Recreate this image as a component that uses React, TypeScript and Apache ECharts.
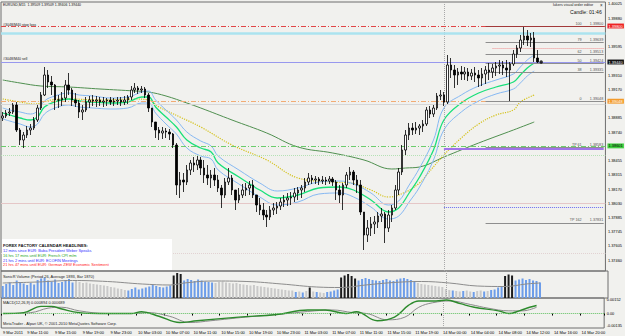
import React, { useEffect, useRef } from "react";
import * as echarts from "echarts";

// ---- time axis (30-minute bars) ----
const sessions = [
  { day: "9 Mar", from: 15, to: 47 },
  { day: "10 Mar", from: 0, to: 47 },
  { day: "11 Mar", from: 0, to: 45 },
  { day: "14 Mar", from: 0, to: 46 },
];
const categories: string[] = [];
sessions.forEach((s) => {
  for (let k = s.from; k <= s.to; k++) {
    const hh = String(Math.floor(k / 2)).padStart(2, "0");
    const mm = k % 2 === 0 ? "00" : "30";
    categories.push(`${s.day} ${hh}:${mm}`);
  }
});
const firstLabel = "9 Mar 2011";

// ---- price (EURUSD) ----
const firstOpen = 1.3888;
const closes = [
  1.3890, 1.3893, 1.3894, 1.3901, 1.3876, 1.3866, 1.3871, 1.3876, 1.3878, 1.3886,
  1.3898, 1.3911, 1.3931, 1.3924, 1.3921, 1.3906, 1.3906, 1.3908, 1.3921, 1.3916,
  1.3906, 1.3903, 1.3894, 1.3896, 1.3904, 1.3906, 1.3905, 1.3906, 1.3904, 1.3905,
  1.3906, 1.3904, 1.3905, 1.3906, 1.3904, 1.3906, 1.3909, 1.3916, 1.3918, 1.3916,
  1.3917, 1.3911, 1.3898, 1.3884, 1.3876, 1.3873, 1.3875, 1.3874, 1.3872, 1.3861,
  1.3821, 1.3826, 1.3824, 1.3836, 1.3843, 1.3841, 1.3846, 1.3838, 1.3831, 1.3828,
  1.3831, 1.3826, 1.3818, 1.3811, 1.3824, 1.3828, 1.3816, 1.3806, 1.3811, 1.3816,
  1.3818, 1.3821, 1.3811, 1.3801, 1.3796, 1.3791, 1.3789, 1.3796, 1.3798, 1.3800,
  1.3804, 1.3806, 1.3808, 1.3809, 1.3813, 1.3816, 1.3818, 1.3824, 1.3828, 1.3826,
  1.3827, 1.3825, 1.3826, 1.3825, 1.3827, 1.3824, 1.3816, 1.3811, 1.3821, 1.3831,
  1.3834, 1.3826, 1.3821, 1.3794, 1.3771, 1.3778, 1.3782, 1.3784, 1.3790, 1.3792,
  1.3778, 1.3791, 1.3798, 1.3816, 1.3834, 1.3856, 1.3871, 1.3878, 1.3876, 1.3878,
  1.3880, 1.3882, 1.3896, 1.3892, 1.3898, 1.3910, 1.3911, 1.3904, 1.3941, 1.3936,
  1.3931, 1.3934, 1.3932, 1.3934, 1.3930, 1.3933, 1.3931, 1.3928, 1.3932, 1.3936,
  1.3934, 1.3938, 1.3940, 1.3941, 1.3938, 1.3936, 1.3942, 1.3952, 1.3958, 1.3966,
  1.3970, 1.3966, 1.3968, 1.3948, 1.3944,
];
const highs = [
  1.3894, 1.3896, 1.3898, 1.3903, 1.3904, 1.3878, 1.3874, 1.3880, 1.3882, 1.3889,
  1.3901, 1.3914, 1.3939, 1.3936, 1.3930, 1.3922, 1.3911, 1.3914, 1.3926, 1.3933,
  1.3918, 1.3913, 1.3906, 1.3901, 1.3909, 1.3910, 1.3911, 1.3910, 1.3909, 1.3909,
  1.3908, 1.3909, 1.3908, 1.3909, 1.3909, 1.3910, 1.3911, 1.3920, 1.3923, 1.3920,
  1.3920, 1.3919, 1.3913, 1.3898, 1.3884, 1.3879, 1.3879, 1.3878, 1.3877, 1.3873,
  1.3863, 1.3834, 1.3833, 1.3841, 1.3846, 1.3849, 1.3850, 1.3849, 1.3846, 1.3841,
  1.3836, 1.3838, 1.3831, 1.3821, 1.3828, 1.3838, 1.3831, 1.3816, 1.3818, 1.3822,
  1.3823, 1.3825, 1.3826, 1.3811, 1.3808, 1.3803, 1.3796, 1.3800, 1.3803, 1.3804,
  1.3808, 1.3811, 1.3813, 1.3814, 1.3818, 1.3819, 1.3821, 1.3828, 1.3833, 1.3831,
  1.3830, 1.3829, 1.3830, 1.3829, 1.3830, 1.3829, 1.3826, 1.3821, 1.3823, 1.3834,
  1.3839, 1.3836, 1.3831, 1.3826, 1.3794, 1.3786, 1.3789, 1.3790, 1.3794, 1.3798,
  1.3794, 1.3796, 1.3801, 1.3821, 1.3838, 1.3861, 1.3876, 1.3883, 1.3883, 1.3884,
  1.3882, 1.3886, 1.3899, 1.3900, 1.3901, 1.3913, 1.3916, 1.3914, 1.3951, 1.3948,
  1.3941, 1.3938, 1.3940, 1.3939, 1.3938, 1.3937, 1.3939, 1.3936, 1.3938, 1.3940,
  1.3943, 1.3942, 1.3944, 1.3946, 1.3945, 1.3946, 1.3944, 1.3956, 1.3961, 1.3971,
  1.3979, 1.3976, 1.3973, 1.3974, 1.3956,
];
const lows = [
  1.3885, 1.3888, 1.3890, 1.3892, 1.3874, 1.3861, 1.3858, 1.3868, 1.3871, 1.3876,
  1.3884, 1.3896, 1.3910, 1.3918, 1.3911, 1.3896, 1.3898, 1.3900, 1.3904, 1.3911,
  1.3900, 1.3899, 1.3888, 1.3886, 1.3894, 1.3898, 1.3900, 1.3899, 1.3900, 1.3899,
  1.3900, 1.3901, 1.3900, 1.3901, 1.3900, 1.3901, 1.3902, 1.3906, 1.3913, 1.3912,
  1.3913, 1.3908, 1.3894, 1.3879, 1.3868, 1.3866, 1.3867, 1.3868, 1.3866, 1.3858,
  1.3811, 1.3808, 1.3814, 1.3821, 1.3831, 1.3834, 1.3836, 1.3831, 1.3823, 1.3821,
  1.3818, 1.3820, 1.3814, 1.3798, 1.3808, 1.3821, 1.3811, 1.3796, 1.3803, 1.3808,
  1.3810, 1.3811, 1.3808, 1.3794, 1.3791, 1.3786, 1.3779, 1.3786, 1.3791, 1.3792,
  1.3796, 1.3799, 1.3800, 1.3801, 1.3804, 1.3806, 1.3808, 1.3814, 1.3821, 1.3822,
  1.3822, 1.3821, 1.3822, 1.3821, 1.3822, 1.3820, 1.3806, 1.3803, 1.3796, 1.3818,
  1.3826, 1.3821, 1.3813, 1.3791, 1.3756, 1.3764, 1.3770, 1.3772, 1.3778, 1.3784,
  1.3763, 1.3774, 1.3784, 1.3796, 1.3811, 1.3831, 1.3851, 1.3866, 1.3871, 1.3872,
  1.3871, 1.3874, 1.3880, 1.3888, 1.3889, 1.3896, 1.3906, 1.3900, 1.3902, 1.3928,
  1.3918, 1.3921, 1.3926, 1.3926, 1.3925, 1.3926, 1.3924, 1.3919, 1.3920, 1.3922,
  1.3926, 1.3928, 1.3930, 1.3932, 1.3931, 1.3929, 1.3905, 1.3940, 1.3948, 1.3954,
  1.3961, 1.3960, 1.3959, 1.3944, 1.3943,
];

// ---- moving averages [bar index, price] ----
const emaClose = [
  [0, 1.3893], [2, 1.3891], [5, 1.3888], [8, 1.3886], [10, 1.3889], [12, 1.3899], [15, 1.3904],
  [19, 1.3907], [22, 1.3905], [26, 1.3904], [31, 1.3903], [36, 1.3904], [40, 1.3909], [42, 1.3909],
  [44, 1.3899], [47, 1.3889], [50, 1.3879], [53, 1.3866], [57, 1.3858], [60, 1.3854], [62, 1.3843],
  [68, 1.3829], [74, 1.3816], [79, 1.3808], [85, 1.3811], [91, 1.3818], [97, 1.3819], [101, 1.3816],
  [106, 1.3806], [111, 1.3794], [114, 1.3798], [117, 1.3813], [120, 1.3829], [124, 1.3856],
  [127, 1.3886], [132, 1.3903], [137, 1.3913], [142, 1.3919], [147, 1.3924], [149, 1.3931],
  [151, 1.3938], [153, 1.3943],
];
const emaHigh = [
  [0, 1.3898], [2, 1.3896], [5, 1.3894], [8, 1.3892], [10, 1.3895], [12, 1.3905], [15, 1.3910],
  [19, 1.3913], [22, 1.3911], [26, 1.3910], [31, 1.3908], [36, 1.3909], [40, 1.3914], [42, 1.3915],
  [44, 1.3906], [47, 1.3896], [50, 1.3886], [53, 1.3874], [57, 1.3865], [60, 1.3860], [62, 1.3850],
  [68, 1.3836], [74, 1.3823], [79, 1.3815], [85, 1.3818], [91, 1.3824], [97, 1.3825], [101, 1.3822],
  [106, 1.3813], [111, 1.3801], [114, 1.3805], [117, 1.3821], [120, 1.3838], [124, 1.3866],
  [127, 1.3898], [132, 1.3911], [137, 1.3920], [142, 1.3926], [147, 1.3932], [149, 1.3939],
  [151, 1.3946], [153, 1.3951],
];
const emaLow = [
  [0, 1.3887], [2, 1.3885], [5, 1.3882], [8, 1.3879], [10, 1.3882], [12, 1.3892], [15, 1.3898],
  [19, 1.3901], [22, 1.3899], [26, 1.3898], [31, 1.3897], [36, 1.3898], [40, 1.3903], [42, 1.3903],
  [44, 1.3893], [47, 1.3882], [50, 1.3872], [53, 1.3858], [57, 1.3850], [60, 1.3847], [62, 1.3836],
  [68, 1.3822], [74, 1.3809], [79, 1.3801], [85, 1.3804], [91, 1.3812], [97, 1.3813], [101, 1.3809],
  [106, 1.3799], [111, 1.3787], [114, 1.3790], [117, 1.3804], [120, 1.3819], [124, 1.3846],
  [127, 1.3876], [132, 1.3894], [137, 1.3905], [142, 1.3912], [147, 1.3917], [149, 1.3923],
  [151, 1.3930], [153, 1.3935],
];
const ema89 = [
  [0, 1.3907], [5, 1.3904], [9, 1.3902], [14, 1.3906], [19, 1.3907], [28, 1.3906], [38, 1.3907],
  [42, 1.3906], [45, 1.3899], [51, 1.3889], [57, 1.3879], [66, 1.3861], [76, 1.3846], [85, 1.3828],
  [95, 1.3824], [100, 1.3823], [106, 1.3816], [111, 1.3809], [116, 1.3814], [120, 1.3823],
  [122, 1.3831], [127, 1.3851], [132, 1.3868], [137, 1.3882], [142, 1.3891], [147, 1.3896],
  [149, 1.3904], [153, 1.3911],
];
const ema200 = [
  [0, 1.3926], [5, 1.3923], [11, 1.3920], [19, 1.3919], [28, 1.3917], [38, 1.3915], [42, 1.3914],
  [47, 1.3910], [53, 1.3903], [57, 1.3898], [66, 1.3886], [76, 1.3873], [85, 1.3859], [95, 1.3853],
  [104, 1.3846], [112, 1.3837], [116, 1.3838], [120, 1.3839], [127, 1.3849], [137, 1.3863],
  [147, 1.3876], [153, 1.3884],
];
const priceTicks = [
  1.40025, 1.3988, 1.39595, 1.3931, 1.3917, 1.38885, 1.3874, 1.38455, 1.38315, 1.3817,
  1.3803, 1.37885, 1.37745, 1.37605, 1.3746,
];
const fibLevels = [
  { name: "100", value: 1.398 },
  { name: "79", value: 1.39639 },
  { name: "62", value: 1.39513 },
  { name: "50", value: 1.39424 },
  { name: "38", value: 1.39335 },
  { name: "0", value: 1.39048 },
  { name: "TP 61", value: 1.38583 },
  { name: "TP 162", value: 1.37831 },
];
const orderMarker = [155, 1.3944];

// ---- SonicR volume ----
const volumes = [
  1440, 1680, 1860, 1560, 2100, 1920, 1740, 1560, 1800, 1620,
  2160, 2340, 2460, 2100, 1980, 2220, 1800, 1920, 2100, 2280,
  1860, 2040, 1920, 1800, 1860, 1740, 1680, 1620, 1560, 1500,
  1440, 1320, 1260, 1140, 1080, 960, 900, 1080, 1260, 1020,
  1140, 1260, 1380, 1560, 1440, 1320, 1260, 1380, 1500, 2700,
  3000, 2880, 2100, 2280, 2160, 2040, 2220, 2100, 1980, 1920,
  1860, 1800, 1920, 1980, 1860, 1800, 1740, 1800, 1680, 1620,
  1560, 1500, 1560, 1440, 1380, 1320, 1260, 1200, 1140, 1080,
  1020, 960, 900, 900, 720, 780, 660, 840, 1260, 780,
  720, 660, 600, 720, 780, 900, 1020, 2460, 2700, 2880,
  2640, 2340, 2100, 2280, 2400, 2280, 2160, 2100, 2040, 2160,
  2280, 2100, 2040, 2220, 2340, 2400, 2280, 2160, 2040, 1800,
  1680, 1620, 1560, 1500, 1440, 1380, 1320, 1080, 960, 900,
  840, 780, 840, 900, 780, 720, 840, 900, 780, 840,
  960, 1020, 1260, 1440, 2640, 2820, 2700, 2100, 2220, 2340,
  2160, 2280, 2100, 2040, 1870,
];
const volumeClass = (
  "bbbbbbbbbbbbbbbbbbbbb" + "ggggggggggggggg" + "bbbbbbbbbbbbb" + "kkk" + "bbbbbbbbb" +
  "ggggggggggggggggggggggg" + "bgbgkgbggbb" + "bb" + "kkkkk" + "bbbbbbbbbbbbbbbbb" +
  "gggggggg" + "ggbggbggbggbgbb" + "bb" + "kkk" + "bbbbbbbb"
).split("");
const volumeAvg = [
  [0, 1800], [10, 1920], [20, 2100], [30, 1980], [40, 1680], [48, 1560], [52, 1800], [60, 2040],
  [70, 1980], [80, 1680], [90, 1320], [97, 1260], [104, 1560], [112, 1860], [120, 1980],
  [128, 1800], [136, 1440], [144, 1380], [150, 1680], [154, 1800],
];

// ---- MACD ----
const macdMain = [
  [0, 0.0], [6, 0.0001], [11, 0.0008], [14, 0.0008], [17, 0.0005], [22, 0.0001], [28, 0.0],
  [37, 0.0], [40, 0.0002], [45, -0.0003], [51, -0.001], [56, -0.0008], [68, -0.0004],
  [79, -0.0001], [88, 0.0004], [93, 0.0004], [99, 0.0], [102, 0.0002], [108, -0.0008],
  [113, -0.0004], [117, 0.0009], [120, 0.0014], [125, 0.0014], [128, 0.0015], [132, 0.0011],
  [136, 0.0007], [143, 0.0003], [146, 0.0], [149, 0.0003], [152, 0.0007], [154, 0.0009],
];
const macdSignal = [
  [0, 0.0], [8, 0.0001], [13, 0.0006], [17, 0.0007], [22, 0.0003], [30, 0.0], [38, 0.0],
  [42, 0.0001], [48, -0.0003], [54, -0.001], [60, -0.0008], [70, -0.0004], [82, 0.0],
  [90, 0.0003], [95, 0.0004], [101, 0.0001], [105, 0.0], [111, -0.0007], [116, -0.0004],
  [120, 0.0007], [124, 0.0012], [129, 0.0014], [135, 0.001], [140, 0.0006], [146, 0.0003],
  [150, 0.0003], [154, 0.0007],
];
const macdTicks = [0.00152, 0, -0.00135];

const weekSeparator = 127;
const FONT = "Liberation Sans";

export default function App() {
  const ref = useRef<HTMLDivElement>(null);
  useEffect(() => {
    const chart = echarts.init(ref.current!, null, { renderer: "svg" });
    const ohlc = closes.map((c, i) => [i === 0 ? firstOpen : closes[i - 1], c, lows[i], highs[i]]);
    const last = categories.length - 1;
    const volColors: Record<string, string> = { b: "#6d9de9", g: "#c9c9c9", k: "#1c1c1c" };

    const axisBox = (color: string, text: string, textColor = "#ffffff") => ({
      show: true,
      position: "end",
      distance: 2,
      formatter: text,
      backgroundColor: color,
      color: textColor,
      fontSize: 3.9,
      fontFamily: FONT,
      padding: [0.6, 1.2, 0.3, 1.2],
    });
    const full = (value: number, color: string, type: any, width: number, label?: any) => ({
      yAxis: value,
      lineStyle: { color, type, width },
      label: label || { show: false },
    });
    const part = (from: number, value: number, color: string, type: any, width: number, label?: any) => [
      { coord: [from, value], lineStyle: { color, type, width }, label: label || { show: false } },
      { coord: [last, value] },
    ];
    const fibLines = fibLevels.map((f) =>
      part(139, f.value, f.name === "100" ? "#a23a3a" : "#8e8e8e", "solid", 1, {
        show: true,
        position: "insideEndTop",
        distance: 0.5,
        formatter: `${f.name}        ${f.value.toFixed(5)}`,
        fontSize: 3.7,
        fontFamily: FONT,
        color: "#555555",
      })
    );

    const xBase = (gridIndex: number, showLabels: boolean) => ({
      type: "category",
      gridIndex,
      data: categories,
      boundaryGap: true,
      axisLine: { show: false },
      axisTick: showLabels
        ? { show: true, length: 2, interval: (i: number) => i === 0 || i % 8 === 7, lineStyle: { color: "#000" } }
        : { show: false },
      axisLabel: showLabels
        ? {
            show: true,
            interval: (i: number) => i === 0 || i % 8 === 7,
            formatter: (v: string, i: number) => (i === 0 ? firstLabel : v),
            fontSize: 4,
            fontFamily: FONT,
            color: "#000",
            align: "left",
            margin: 2.5,
          }
        : { show: false },
      splitLine: { show: false },
    });

    const gridStyle = { show: true, borderColor: "#6e6e6e", borderWidth: 1, backgroundColor: "transparent" };
    const t = (text: string, x: number, y: number, size: number, fill = "#222", weight = "normal") => ({
      type: "text",
      x,
      y,
      silent: true,
      z: 10,
      style: { text, fill, fontSize: size, fontFamily: FONT, fontWeight: weight, verticalAlign: "middle" },
    });
    const sep = { xAxis: weekSeparator, lineStyle: { color: "#a8a8a8", type: "dotted", width: 1 }, label: { show: false } };

    const option: any = {
      animation: false,
      backgroundColor: "#f1f1ee",
      textStyle: { fontFamily: FONT },
      grid: [
        { left: 1, right: 17, top: 2, height: 269, ...gridStyle },
        { left: 1, right: 17, top: 271, height: 27, ...gridStyle },
        { left: 1, right: 17, top: 298, height: 30, ...gridStyle },
      ],
      xAxis: [xBase(0, false), xBase(1, false), xBase(2, true)],
      yAxis: [
        {
          type: "value",
          gridIndex: 0,
          position: "right",
          min: 1.3735,
          max: 1.4004,
          axisLine: { show: false },
          axisTick: { show: false },
          splitLine: { show: false },
          axisLabel: {
            customValues: priceTicks,
            formatter: (v: number) => v.toFixed(5),
            fontSize: 3.9,
            fontFamily: FONT,
            color: "#000",
            margin: 2.5,
          },
        },
        {
          type: "value",
          gridIndex: 1,
          position: "right",
          min: 0,
          max: 3240,
          axisLine: { show: false },
          axisTick: { show: false },
          splitLine: { show: false },
          axisLabel: { show: false },
        },
        {
          type: "value",
          gridIndex: 2,
          position: "right",
          min: -0.00161,
          max: 0.00173,
          axisLine: { show: false },
          axisTick: { show: false },
          splitLine: { show: false },
          axisLabel: {
            customValues: macdTicks,
            formatter: (v: number) => (v === 0 ? "0.00" : v.toFixed(5)),
            fontSize: 3.9,
            fontFamily: FONT,
            color: "#000",
            margin: 2.5,
          },
        },
      ],
      series: [
        {
          type: "candlestick",
          xAxisIndex: 0,
          yAxisIndex: 0,
          data: ohlc,
          barWidth: 2,
          itemStyle: {
            color: "#ffffff",
            color0: "#000000",
            borderColor: "#000000",
            borderColor0: "#000000",
            borderWidth: 0.8,
          },
          markLine: {
            silent: true,
            symbol: ["none", "none"],
            precision: 6,
            animation: false,
            data: [
              sep,
              full(1.3980, "#e04545", [5, 2, 1, 2], 1, axisBox("#ee2222", "1.39800")),
              full(1.3973, "#abe3ef", "solid", 2.5),
              full(1.3944, "#9898ee", "solid", 1, axisBox("#111111", "1.39440")),
              full(1.39048, "#f2ac74", [5, 2, 1, 2], 1, axisBox("#f39a2a", "1.39048")),
              full(1.3902, "#d6d6d6", "solid", 1),
              full(1.38601, "#6ccc6c", [5, 2, 1, 2], 1, axisBox("#3fcf3f", "1.38601", "#000")),
              full(1.3851, "#b4e2b4", "dotted", 1),
              full(1.3803, "#e5c7c7", "solid", 1),
              full(1.3753, "#e2d2d2", "dotted", 1),
              ...fibLines,
              part(141, 1.3958, "#f09090", "dotted", 1),
              part(127, 1.3857, "#a074ea", "solid", 2),
              part(127, 1.3799, "#6a6af0", "dotted", 1),
            ],
          },
          z: 5,
        },
        { type: "line", xAxisIndex: 0, yAxisIndex: 0, data: ema200, smooth: 0.4, symbol: "none", lineStyle: { color: "#4f8f4f", width: 1 }, z: 3 },
        { type: "line", xAxisIndex: 0, yAxisIndex: 0, data: ema89, smooth: 0.4, symbol: "none", lineStyle: { color: "#d4c21a", width: 1.2, type: "dotted" }, z: 3 },
        { type: "line", xAxisIndex: 0, yAxisIndex: 0, data: emaHigh, smooth: 0.4, symbol: "none", lineStyle: { color: "#86b8f2", width: 1 }, z: 3 },
        { type: "line", xAxisIndex: 0, yAxisIndex: 0, data: emaLow, smooth: 0.4, symbol: "none", lineStyle: { color: "#86b8f2", width: 1 }, z: 3 },
        { type: "line", xAxisIndex: 0, yAxisIndex: 0, data: emaClose, smooth: 0.4, symbol: "none", lineStyle: { color: "#19e07a", width: 1.3 }, z: 4 },
        { type: "scatter", xAxisIndex: 0, yAxisIndex: 0, data: [orderMarker], symbolSize: 3.5, itemStyle: { color: "#000" }, z: 6 },
        {
          type: "bar",
          xAxisIndex: 1,
          yAxisIndex: 1,
          barWidth: 2,
          data: volumes.map((v, i) => ({ value: v, itemStyle: { color: volColors[volumeClass[i]] } })),
          markLine: { silent: true, symbol: ["none", "none"], precision: 6, data: [sep] },
        },
        { type: "line", xAxisIndex: 1, yAxisIndex: 1, data: volumeAvg, smooth: 0.4, symbol: "none", lineStyle: { color: "#8c8c8c", width: 1 } },
        {
          type: "line",
          xAxisIndex: 2,
          yAxisIndex: 2,
          data: macdSignal,
          smooth: 0.4,
          symbol: "none",
          lineStyle: { color: "#8a8a8a", width: 1 },
          markLine: {
            silent: true,
            symbol: ["none", "none"],
            precision: 6,
            data: [{ yAxis: 0, lineStyle: { color: "#5cbf5c", type: "dotted", width: 1 }, label: { show: false } }, sep],
          },
        },
        { type: "line", xAxisIndex: 2, yAxisIndex: 2, data: macdMain, smooth: 0.4, symbol: "none", lineStyle: { color: "#2c8a2c", width: 1.4 } },
      ],
      graphic: [
        t("EURUSD,M15  1.39509 1.39509 1.39406 1.39440", 3, 5, 3.5, "#111"),
        t("#3048/M40 stop loss", 3, 24.5, 3.6, "#222"),
        t("#3048/M40 sell", 3, 58.5, 3.6, "#222"),
        t("lukers visual order editor", 553, 5, 3.7, "#222"),
        t("×", 600, 5, 4.5, "#222"),
        t("Candle: 01:46", 570, 12, 5.1, "#111"),
        { type: "rect", shape: { x: 2, y: 239, width: 170, height: 31 }, style: { fill: "#ffffff" }, silent: true, z: 9 },
        t("FOREX FACTORY CALENDAR HEADLINES:", 3, 245, 4.1, "#111", "bold"),
        t("12 mins since EUR: Buba President Weber Speaks", 3, 250.5, 3.9, "#2f2fff"),
        t("16 hrs 17 mins until EUR: French CPI m/m", 3, 255.2, 3.9, "#1f9f1f"),
        t("21 hrs 2 mins until EUR: ECOFIN Meetings", 3, 260, 3.9, "#2f2fff"),
        t("21 hrs 47 mins until EUR: German ZEW Economic Sentiment", 3, 264.7, 3.9, "#ff2424"),
        t("SonicR Volume (Period 26, Average 1893, Bar 1870)", 3, 276.5, 3.9, "#222"),
        t("MACD(12,26,9) 0.000894 0.000689", 3, 302, 3.9, "#222"),
        t("MetaTrader - Alpari UK, © 2001-2010 MetaQuotes Software Corp.", 3, 323.5, 3.9, "#222"),
      ],
    };
    chart.setOption(option);
    return () => chart.dispose();
  }, []);
  return <div ref={ref} style={{ position: "fixed", left: 0, top: 0, width: 625, height: 336 }} />;
}
